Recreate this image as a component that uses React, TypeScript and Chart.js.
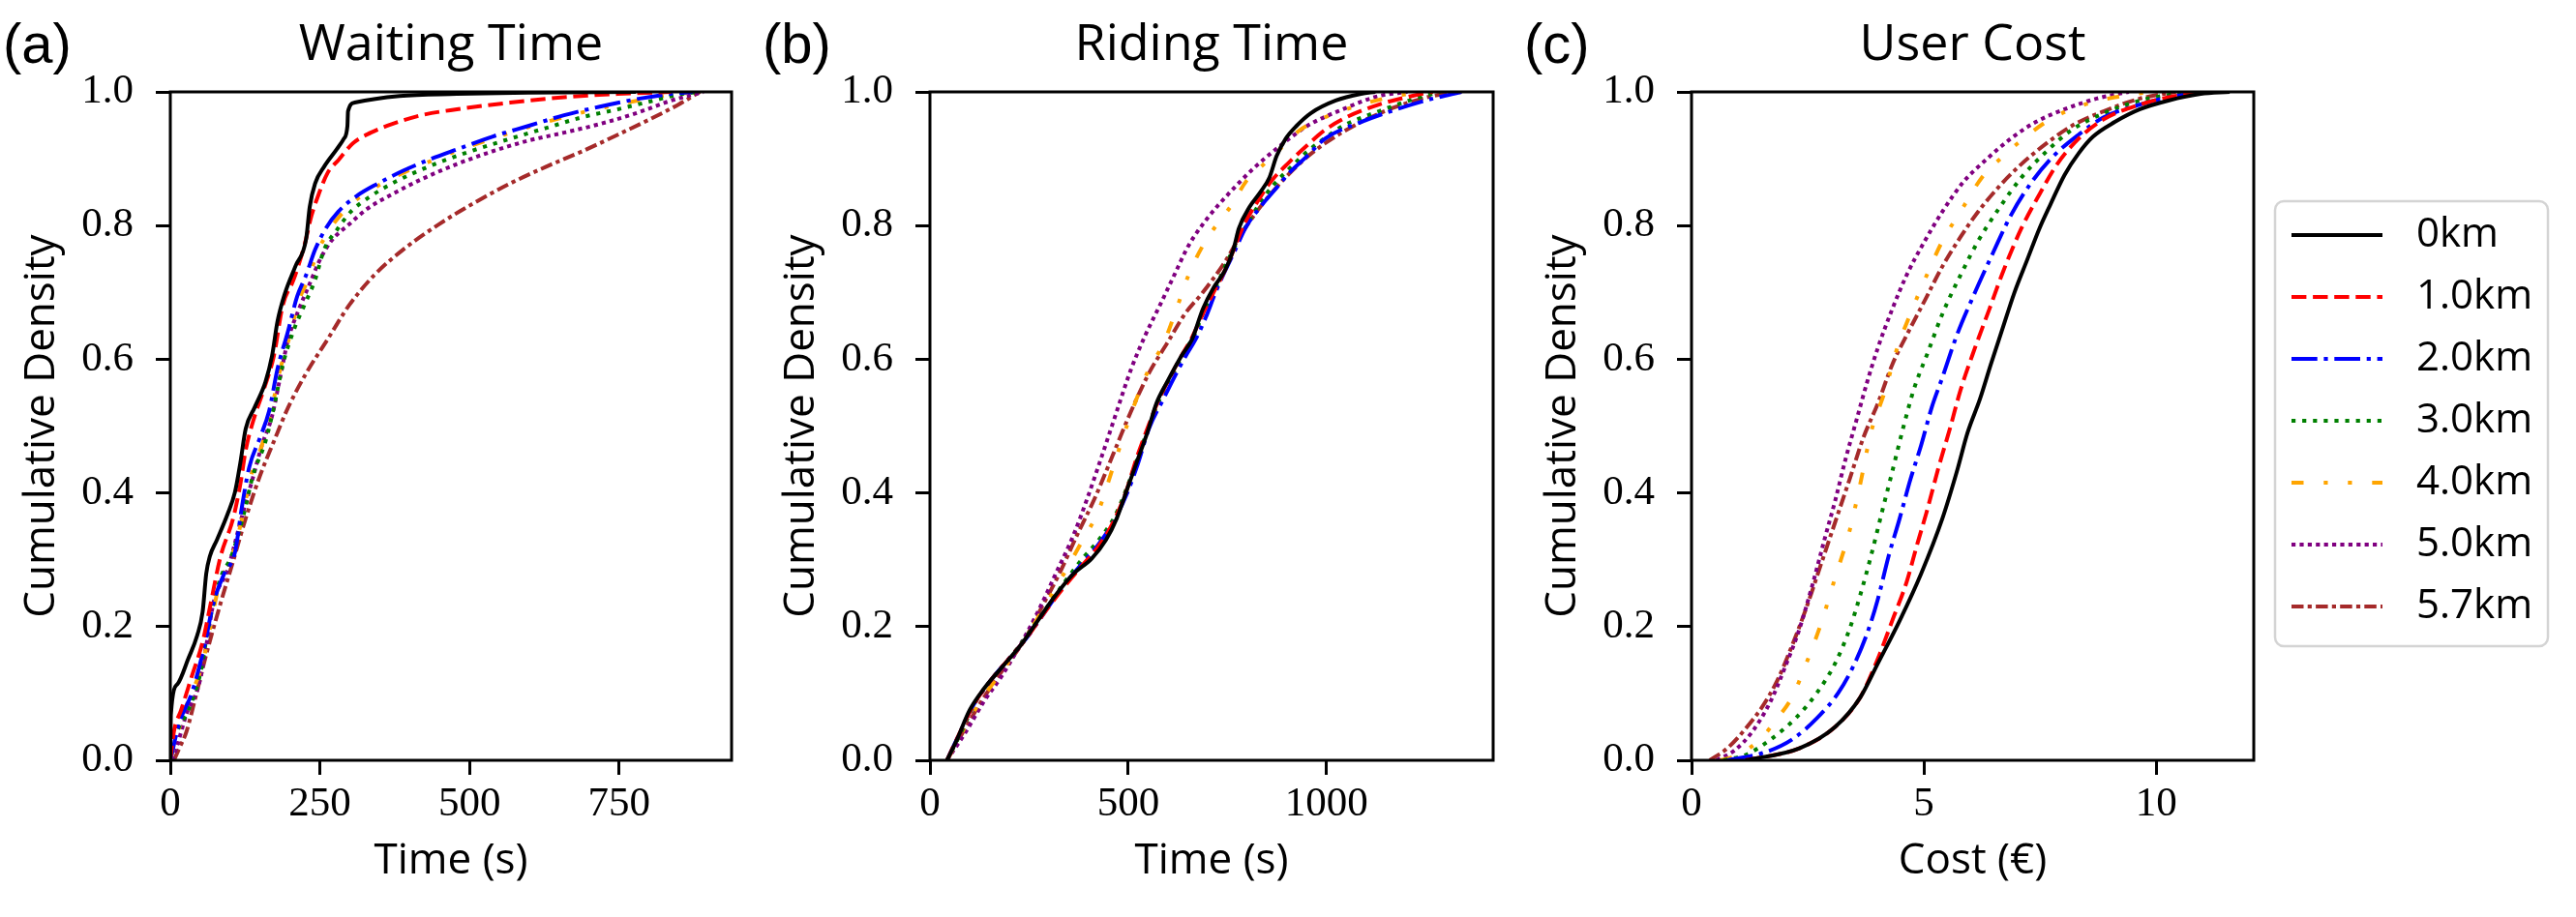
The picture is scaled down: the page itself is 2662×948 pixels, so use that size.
import React, { useEffect, useRef } from 'react';
import { Chart, registerables } from 'chart.js';
Chart.register(...registerables);

// legend entries, shared by the three panels
const seriesLabels = ['0km', '1.0km', '2.0km', '3.0km', '4.0km', '5.0km', '5.7km'];
const seriesColors = ['#000000', '#ff0000', '#0000ff', '#008000', '#ffa500', '#800080', '#a52a2a'];
const seriesDashes = [
    [],
    [15.4, 6.7],
    [26.7, 6.7, 4.2, 6.7],
    [4.2, 6.9],
    [12.5, 20.8, 4.2, 20.8, 4.2, 20.8],
    [4.2, 4.2],
    [12.5, 4.2, 4.2, 4.2],
];

const densityTicks = [0, 0.2, 0.4, 0.6, 0.8, 1.0];
const waitingTicks = [0, 250, 500, 750];
const ridingTicks = [0, 500, 1000];
const costTicks = [0, 5, 10];

// (a) waiting time [s, cumulative density]
const waiting0km = [[0, 0], [1, 0.069], [12, 0.114], [30, 0.152], [45, 0.187], [54, 0.222], [60, 0.279], [66, 0.305], [78, 0.33], [96, 0.369], [108, 0.401], [117, 0.445], [126, 0.496], [141, 0.528], [159, 0.566], [170, 0.605], [179, 0.656], [191, 0.697], [209, 0.739], [227, 0.78], [233, 0.828], [242, 0.863], [257, 0.888], [278, 0.914], [290, 0.93], [296, 0.949], [297, 0.971], [308, 0.984], [383, 0.994], [479, 0.997], [598, 0.999], [778, 1.0]];
const waiting1km = [[0, 0], [6, 0.043], [18, 0.075], [36, 0.126], [54, 0.177], [66, 0.228], [84, 0.305], [105, 0.362], [117, 0.413], [126, 0.464], [141, 0.515], [156, 0.554], [173, 0.605], [188, 0.681], [206, 0.719], [224, 0.77], [236, 0.815], [248, 0.847], [263, 0.879], [281, 0.898], [305, 0.923], [335, 0.939], [371, 0.952], [419, 0.965], [479, 0.974], [568, 0.984], [658, 0.992], [748, 0.997], [837, 1.0]];
const waiting2km = [[0, 0], [15, 0.056], [36, 0.101], [57, 0.171], [72, 0.235], [90, 0.279], [108, 0.311], [120, 0.381], [132, 0.439], [150, 0.483], [165, 0.522], [179, 0.585], [197, 0.643], [212, 0.694], [227, 0.726], [242, 0.764], [260, 0.796], [281, 0.821], [311, 0.844], [347, 0.863], [389, 0.882], [431, 0.898], [479, 0.914], [538, 0.933], [598, 0.949], [658, 0.965], [718, 0.978], [778, 0.989], [837, 0.997], [873, 1.0]];
const waiting3km = [[0, 0], [9, 0.037], [30, 0.075], [51, 0.133], [63, 0.196], [84, 0.273], [102, 0.305], [123, 0.369], [138, 0.426], [159, 0.477], [173, 0.528], [188, 0.592], [206, 0.643], [224, 0.681], [242, 0.719], [257, 0.764], [278, 0.793], [302, 0.821], [335, 0.844], [377, 0.866], [431, 0.888], [491, 0.908], [568, 0.93], [628, 0.946], [688, 0.962], [748, 0.974], [808, 0.987], [855, 0.997], [885, 1.0]];
const waiting4km = [[0, 0], [9, 0.031], [27, 0.082], [54, 0.145], [66, 0.196], [81, 0.26], [105, 0.311], [120, 0.362], [135, 0.426], [153, 0.471], [167, 0.515], [182, 0.579], [200, 0.636], [215, 0.688], [230, 0.719], [245, 0.758], [263, 0.79], [284, 0.815], [314, 0.841], [350, 0.861], [392, 0.88], [434, 0.896], [482, 0.913], [541, 0.931], [601, 0.948], [661, 0.963], [721, 0.976], [781, 0.987], [840, 0.996], [879, 1.0]];
const waiting5km = [[3, 0], [12, 0.024], [27, 0.069], [48, 0.114], [60, 0.171], [72, 0.235], [96, 0.286], [117, 0.356], [135, 0.413], [153, 0.471], [170, 0.515], [182, 0.566], [197, 0.63], [215, 0.675], [233, 0.713], [248, 0.745], [269, 0.777], [299, 0.802], [329, 0.825], [371, 0.847], [419, 0.869], [479, 0.892], [538, 0.911], [598, 0.927], [658, 0.939], [718, 0.952], [778, 0.968], [837, 0.987], [891, 1.0]];
const waiting57km = [[6, 0], [15, 0.018], [27, 0.043], [42, 0.094], [60, 0.158], [84, 0.235], [105, 0.298], [126, 0.362], [150, 0.426], [173, 0.477], [197, 0.528], [227, 0.579], [263, 0.63], [299, 0.681], [341, 0.726], [389, 0.764], [449, 0.802], [508, 0.834], [568, 0.863], [628, 0.888], [688, 0.911], [748, 0.936], [808, 0.962], [849, 0.981], [885, 1.0]];

// (b) riding time [s, cumulative density]
const riding0km = [[43, 0], [68, 0.031], [100, 0.075], [136, 0.107], [190, 0.145], [235, 0.177], [272, 0.209], [317, 0.247], [362, 0.279], [408, 0.302], [444, 0.33], [471, 0.362], [498, 0.407], [525, 0.452], [548, 0.49], [571, 0.534], [598, 0.566], [634, 0.605], [661, 0.63], [688, 0.675], [715, 0.707], [743, 0.732], [765, 0.764], [779, 0.796], [806, 0.828], [833, 0.85], [856, 0.872], [874, 0.904], [897, 0.93], [924, 0.949], [960, 0.968], [1023, 0.987], [1087, 0.997], [1123, 1.0]];
const riding1km = [[43, 0], [72, 0.037], [109, 0.082], [154, 0.12], [199, 0.152], [245, 0.184], [290, 0.222], [335, 0.257], [380, 0.289], [426, 0.321], [462, 0.356], [494, 0.401], [521, 0.452], [548, 0.496], [578, 0.541], [605, 0.573], [634, 0.605], [661, 0.633], [688, 0.668], [715, 0.7], [743, 0.732], [768, 0.767], [792, 0.802], [824, 0.834], [860, 0.866], [906, 0.895], [951, 0.92], [996, 0.943], [1050, 0.962], [1132, 0.981], [1223, 0.995], [1268, 1.0]];
const riding2km = [[43, 0], [72, 0.037], [109, 0.082], [154, 0.12], [199, 0.152], [245, 0.184], [290, 0.222], [335, 0.26], [380, 0.292], [426, 0.324], [462, 0.356], [498, 0.401], [525, 0.445], [552, 0.496], [589, 0.541], [616, 0.573], [645, 0.605], [670, 0.63], [695, 0.662], [720, 0.7], [744, 0.732], [770, 0.764], [795, 0.796], [833, 0.828], [869, 0.853], [906, 0.879], [951, 0.904], [996, 0.93], [1087, 0.955], [1177, 0.974], [1268, 0.99], [1340, 1.0]];
const riding3km = [[43, 0], [77, 0.04], [113, 0.085], [158, 0.123], [204, 0.155], [249, 0.19], [294, 0.228], [340, 0.267], [385, 0.302], [426, 0.33], [466, 0.365], [498, 0.41], [525, 0.455], [552, 0.499], [580, 0.541], [609, 0.573], [638, 0.608], [666, 0.636], [691, 0.672], [718, 0.703], [744, 0.739], [770, 0.77], [797, 0.799], [829, 0.831], [865, 0.86], [906, 0.885], [946, 0.908], [987, 0.927], [1041, 0.949], [1132, 0.971], [1223, 0.99], [1286, 1.0]];
const riding4km = [[43, 0], [82, 0.043], [127, 0.088], [181, 0.133], [235, 0.177], [281, 0.222], [326, 0.267], [380, 0.324], [426, 0.375], [462, 0.439], [498, 0.503], [525, 0.547], [552, 0.585], [589, 0.624], [625, 0.681], [652, 0.726], [688, 0.77], [724, 0.802], [761, 0.831], [797, 0.866], [842, 0.892], [887, 0.917], [933, 0.943], [996, 0.962], [1087, 0.981], [1177, 0.994], [1250, 1.0]];
const riding5km = [[43, 0], [91, 0.043], [136, 0.088], [181, 0.126], [226, 0.171], [272, 0.222], [317, 0.279], [362, 0.337], [398, 0.394], [435, 0.458], [471, 0.522], [507, 0.585], [543, 0.636], [580, 0.681], [616, 0.726], [652, 0.77], [697, 0.809], [752, 0.847], [815, 0.885], [878, 0.917], [951, 0.949], [1041, 0.974], [1132, 0.994], [1204, 1.0]];
const riding57km = [[43, 0], [91, 0.05], [136, 0.094], [181, 0.133], [235, 0.177], [281, 0.228], [326, 0.279], [371, 0.337], [417, 0.394], [462, 0.458], [507, 0.522], [552, 0.579], [598, 0.624], [643, 0.668], [688, 0.7], [743, 0.745], [788, 0.79], [833, 0.828], [887, 0.866], [942, 0.898], [996, 0.923], [1087, 0.955], [1177, 0.978], [1268, 0.994], [1340, 1.0]];

// (c) user cost [euro, cumulative density]
const cost0km = [[1.16, 0], [2.32, 0.018], [3.09, 0.05], [3.63, 0.094], [4.01, 0.145], [4.48, 0.209], [4.94, 0.279], [5.4, 0.362], [5.71, 0.432], [5.94, 0.49], [6.21, 0.541], [6.44, 0.592], [6.68, 0.643], [6.95, 0.7], [7.22, 0.748], [7.49, 0.796], [7.72, 0.831], [8.03, 0.876], [8.33, 0.908], [8.64, 0.933], [9.11, 0.955], [9.65, 0.974], [10.26, 0.987], [10.96, 0.997], [11.58, 1.0]];
const cost1km = [[1.16, 0], [2.32, 0.018], [3.09, 0.05], [3.63, 0.094], [4.01, 0.152], [4.32, 0.209], [4.63, 0.267], [4.86, 0.324], [5.05, 0.369], [5.32, 0.439], [5.56, 0.496], [5.79, 0.554], [6.1, 0.617], [6.41, 0.675], [6.71, 0.732], [7.1, 0.796], [7.49, 0.847], [7.87, 0.892], [8.33, 0.93], [8.87, 0.959], [9.65, 0.981], [10.42, 0.994], [11.19, 1.0]];
const cost2km = [[0.77, 0], [1.54, 0.011], [2.16, 0.031], [2.7, 0.063], [3.16, 0.101], [3.47, 0.139], [3.78, 0.19], [4.01, 0.241], [4.24, 0.305], [4.48, 0.362], [4.71, 0.42], [4.94, 0.471], [5.17, 0.528], [5.4, 0.573], [5.71, 0.636], [6.1, 0.7], [6.48, 0.758], [6.87, 0.815], [7.33, 0.866], [7.79, 0.904], [8.33, 0.936], [8.87, 0.962], [9.65, 0.981], [10.42, 0.994], [11.19, 1.0]];
const cost3km = [[0.69, 0], [1.16, 0.008], [1.7, 0.031], [2.24, 0.063], [2.7, 0.101], [3.09, 0.145], [3.4, 0.196], [3.63, 0.247], [3.86, 0.305], [4.09, 0.369], [4.32, 0.432], [4.55, 0.496], [4.78, 0.554], [5.09, 0.611], [5.4, 0.668], [5.79, 0.726], [6.17, 0.777], [6.64, 0.828], [7.1, 0.872], [7.64, 0.911], [8.18, 0.943], [8.87, 0.968], [9.65, 0.987], [10.42, 0.997], [10.96, 1.0]];
const cost4km = [[0.62, 0], [1.0, 0.008], [1.47, 0.031], [1.85, 0.063], [2.16, 0.094], [2.47, 0.145], [2.78, 0.203], [3.09, 0.273], [3.4, 0.343], [3.63, 0.413], [3.86, 0.49], [4.17, 0.554], [4.4, 0.611], [4.71, 0.668], [5.02, 0.719], [5.4, 0.777], [5.79, 0.821], [6.25, 0.872], [6.71, 0.904], [7.25, 0.936], [7.72, 0.959], [8.33, 0.978], [9.11, 0.992], [9.88, 1.0]];
const cost5km = [[0.54, 0], [0.93, 0.015], [1.31, 0.043], [1.7, 0.088], [2.01, 0.139], [2.32, 0.196], [2.62, 0.267], [2.86, 0.33], [3.09, 0.388], [3.32, 0.452], [3.55, 0.509], [3.78, 0.566], [4.01, 0.617], [4.32, 0.675], [4.63, 0.726], [5.02, 0.777], [5.4, 0.821], [5.86, 0.866], [6.33, 0.898], [6.87, 0.93], [7.41, 0.955], [8.03, 0.974], [8.72, 0.99], [9.41, 1.0]];
const cost57km = [[0.39, 0], [0.77, 0.018], [1.16, 0.047], [1.54, 0.082], [1.85, 0.12], [2.16, 0.171], [2.47, 0.228], [2.78, 0.292], [3.09, 0.356], [3.4, 0.42], [3.7, 0.483], [4.01, 0.534], [4.32, 0.592], [4.63, 0.636], [5.02, 0.688], [5.4, 0.739], [5.79, 0.783], [6.17, 0.821], [6.64, 0.86], [7.1, 0.892], [7.64, 0.923], [8.18, 0.949], [8.87, 0.971], [9.65, 0.99], [10.42, 1.0]];

const SANS = '"Open Sans", sans-serif';
const SERIF = '"Liberation Serif", serif';

// frame round the plot, panel letter, optional legend box
const decor = {
    id: 'decor',
    afterDatasetsDraw(chart: any, _a: any, opts: any) {
        const { ctx, chartArea } = chart;
        ctx.save();
        ctx.strokeStyle = '#000';
        ctx.lineWidth = 3;
        ctx.setLineDash([]);
        ctx.strokeRect(chartArea.left, chartArea.top, chartArea.right - chartArea.left, chartArea.bottom - chartArea.top);
        ctx.fillStyle = '#000';
        ctx.font = '58px "Liberation Sans", sans-serif';
        ctx.textBaseline = 'alphabetic';
        ctx.textAlign = 'left';
        ctx.fillText(opts.letter, chartArea.left - 173, 65);

        if (opts.legend) {
            const x0 = chartArea.right + 22, y0 = 208, w = 282, h = 460;
            ctx.beginPath();
            ctx.roundRect(x0, y0, w, h, 9);
            ctx.fillStyle = 'rgba(255,255,255,0.8)';
            ctx.fill();
            ctx.strokeStyle = '#d4d4d4';
            ctx.lineWidth = 2.5;
            ctx.stroke();
            chart.data.datasets.forEach((ds: any, i: number) => {
                const y = y0 + 35 + i * 64;
                ctx.beginPath();
                ctx.strokeStyle = ds.borderColor;
                ctx.lineWidth = ds.borderWidth;
                ctx.setLineDash(ds.borderDash);
                ctx.moveTo(x0 + 17, y);
                ctx.lineTo(x0 + 111, y);
                ctx.stroke();
                ctx.setLineDash([]);
                ctx.fillStyle = '#000';
                ctx.font = '42px ' + SANS;
                ctx.textBaseline = 'middle';
                ctx.fillText(ds.label, x0 + 146, y);
            });
        }
        ctx.restore();
    },
};

type PanelProps = {
    left: number; width: number; padRight: number;
    letter: string; title: string; xTitle: string;
    xMax: number; xTicks: number[]; series: number[][][]; legend?: boolean;
};

const Panel: React.FC<PanelProps> = (props) => {
    const ref = useRef<HTMLCanvasElement>(null);

    useEffect(() => {
        if (!ref.current) return;
        const chart = new Chart(ref.current, {
            type: 'line',
            data: {
                datasets: props.series.map((s, i) => ({
                    label: seriesLabels[i],
                    data: s.map(p => ({ x: p[0], y: p[1] })),
                    borderColor: seriesColors[i],
                    borderDash: seriesDashes[i],
                    borderWidth: 4,
                    pointRadius: 0,
                    fill: false,
                    cubicInterpolationMode: 'monotone' as const,
                })),
            },
            options: {
                responsive: false,
                animation: false,
                devicePixelRatio: 1,
                layout: { padding: { left: 0, right: props.padRight, top: 0, bottom: 0 } },
                scales: {
                    x: {
                        type: 'linear',
                        min: 0,
                        max: props.xMax,
                        afterBuildTicks: (axis: any) => { axis.ticks = props.xTicks.map(v => ({ value: v })); },
                        afterFit: (axis: any) => { axis.height = 162; },
                        border: { display: false },
                        grid: { drawOnChartArea: false, drawTicks: true, tickLength: 15, lineWidth: 3, color: '#000' },
                        ticks: { color: '#000', padding: 9, maxRotation: 0, font: { family: SERIF, size: 43, lineHeight: 1 }, callback: (v: any) => String(v) },
                        title: { display: true, text: props.xTitle, color: '#000', padding: { top: 0, bottom: 36 }, font: { family: SANS, size: 44, lineHeight: 1 } },
                    },
                    y: {
                        type: 'linear',
                        min: 0,
                        max: 1,
                        afterBuildTicks: (axis: any) => { axis.ticks = densityTicks.map(v => ({ value: v })); },
                        afterFit: (axis: any) => { axis.width = 176; },
                        border: { display: false },
                        grid: { drawOnChartArea: false, drawTicks: true, tickLength: 15, lineWidth: 3, color: '#000' },
                        ticks: { color: '#000', padding: 23, font: { family: SERIF, size: 43, lineHeight: 1 }, callback: (v: any) => Number(v).toFixed(1) },
                        title: { display: true, text: 'Cumulative Density', color: '#000', padding: { top: 21, bottom: 0 }, font: { family: SANS, size: 44, lineHeight: 1 } },
                    },
                },
                plugins: {
                    legend: { display: false },
                    tooltip: { enabled: false },
                    title: {
                        display: true, text: props.title, fullSize: false, color: '#000',
                        padding: { top: 21, bottom: 22 }, font: { family: SANS, size: 52, weight: 'normal', lineHeight: 1 },
                    },
                    decor: { letter: props.letter, legend: !!props.legend },
                } as any,
            },
            plugins: [decor],
        });

        return (() => {
            chart.destroy();
        });
    }, []);

    return (
        <canvas ref={ref} width={props.width} height={948}
            style={{ position: 'absolute', left: props.left, top: 0, width: props.width, height: 948 }} />
    );
};

const App: React.FC = () => {
    return (
        <div style={{ position: 'absolute', left: 0, top: 0, width: 2662, height: 948, background: '#fff', overflow: 'hidden' }}>
            <Panel left={0} width={785} padRight={29} letter="(a)" title="Waiting Time" xTitle="Time (s)"
                xMax={938} xTicks={waitingTicks}
                series={[waiting0km, waiting1km, waiting2km, waiting3km, waiting4km, waiting5km, waiting57km]} />
            <Panel left={785} width={787} padRight={29} letter="(b)" title="Riding Time" xTitle="Time (s)"
                xMax={1420} xTicks={ridingTicks}
                series={[riding0km, riding1km, riding2km, riding3km, riding4km, riding5km, riding57km]} />
            <Panel left={1572} width={1090} padRight={333} letter="(c)" title="User Cost" xTitle="Cost (€)"
                xMax={12.1} xTicks={costTicks}
                series={[cost0km, cost1km, cost2km, cost3km, cost4km, cost5km, cost57km]} legend />
        </div>
    );
};

export default App;
